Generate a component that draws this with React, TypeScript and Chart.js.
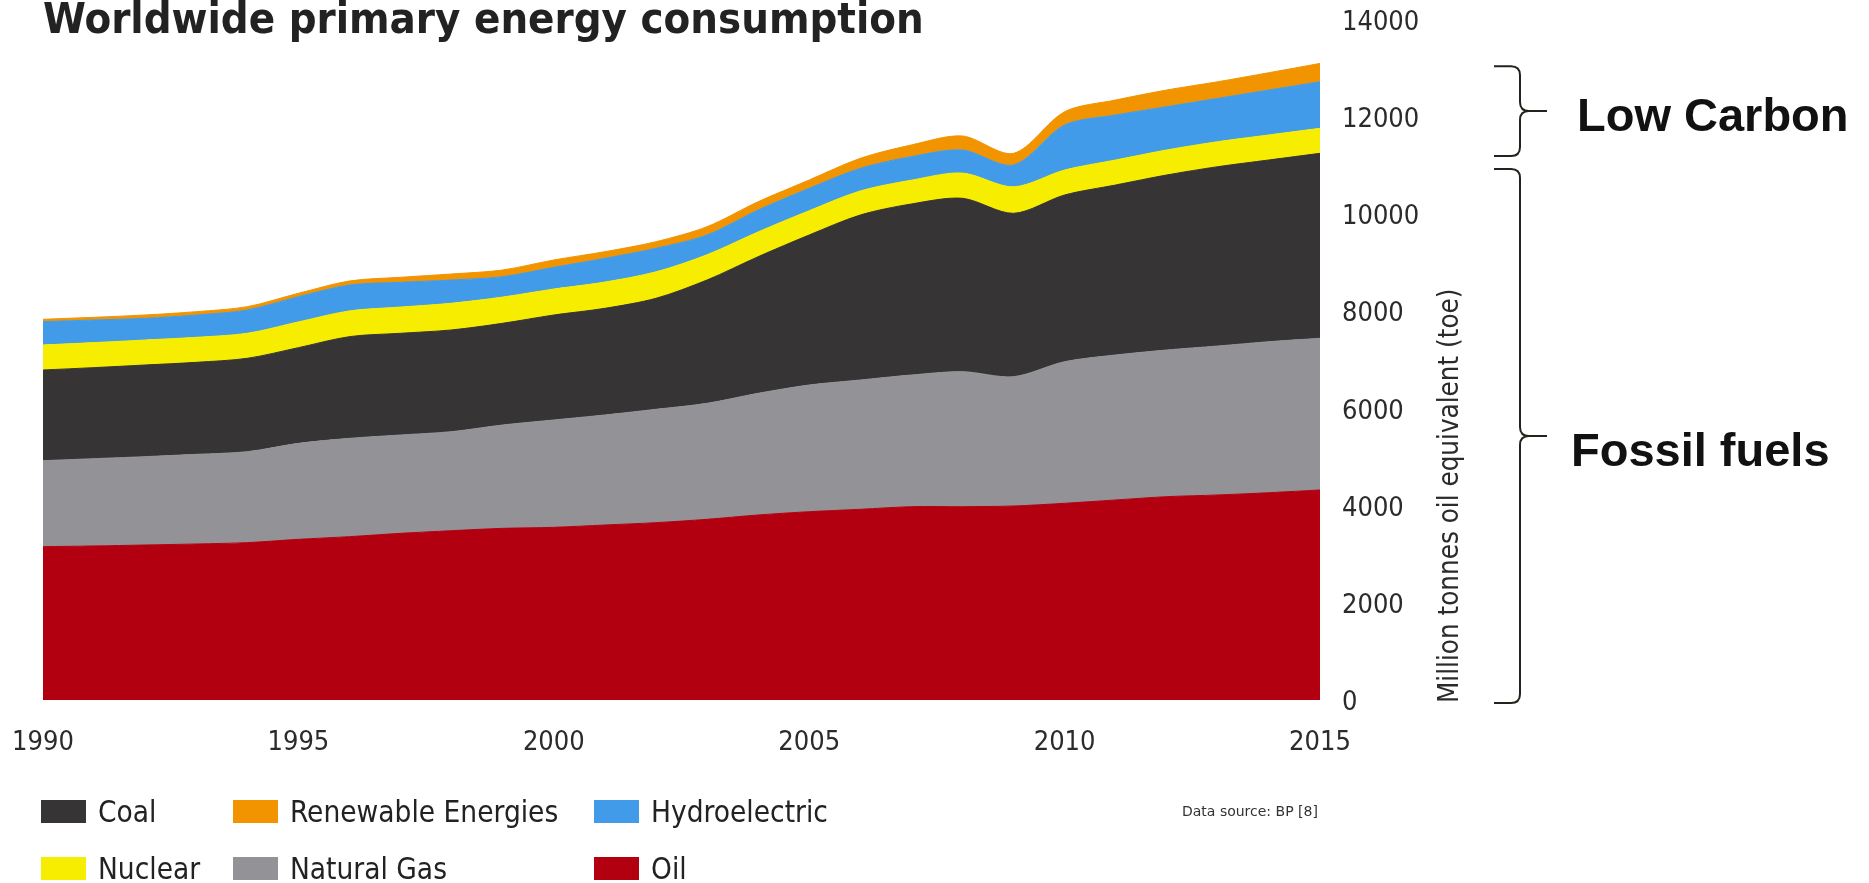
import React, { useEffect, useRef } from 'react';
import { Chart, registerables } from 'chart.js';

Chart.register(...registerables);

// ---------------- data ----------------
const years = [
  1990, 1991, 1992, 1993, 1994, 1995, 1996, 1997, 1998, 1999, 2000, 2001, 2002,
  2003, 2004, 2005, 2006, 2007, 2008, 2009, 2010, 2011, 2012, 2013, 2014, 2015,
];
const xTickLabels = ['1990', '1995', '2000', '2005', '2010', '2015'];
const yTickValues = [0, 2000, 4000, 6000, 8000, 10000, 12000, 14000];

const oil = [3157, 3171, 3191, 3212, 3240, 3308, 3363, 3431, 3486, 3534, 3555, 3603, 3651, 3720, 3809, 3877, 3926, 3980, 3980, 3994, 4050, 4118, 4186, 4221, 4268, 4324];
const naturalGas = [1770, 1798, 1819, 1846, 1872, 1976, 2024, 2025, 2039, 2128, 2210, 2265, 2334, 2388, 2505, 2608, 2662, 2711, 2780, 2663, 2915, 2985, 3020, 3067, 3109, 3122];
const coal = [1867, 1874, 1887, 1894, 1923, 1970, 2094, 2094, 2094, 2094, 2161, 2196, 2285, 2539, 2813, 3089, 3397, 3521, 3569, 3363, 3432, 3500, 3603, 3692, 3741, 3809];
const nuclear = [515, 515, 515, 515, 515, 530, 530, 540, 550, 540, 535, 540, 545, 520, 510, 500, 495, 490, 520, 545, 515, 515, 515, 515, 515, 515];
const hydroelectric = [480, 466, 446, 459, 480, 520, 533, 510, 478, 420, 447, 490, 485, 407, 451, 461, 466, 485, 475, 450, 926, 926, 892, 892, 926, 959];
const renewables = [49, 55, 69, 69, 68, 69, 83, 103, 124, 137, 151, 136, 136, 171, 171, 171, 206, 240, 288, 240, 274, 309, 343, 342, 356, 377];

const seriesNames = ['Oil', 'Natural Gas', 'Coal', 'Nuclear', 'Hydroelectric', 'Renewable Energies'];
const seriesValues = [oil, naturalGas, coal, nuclear, hydroelectric, renewables];
const seriesColors = ['#B20010', '#939297', '#373435', '#F6ED00', '#429BE8', '#F29400'];
const legendRows = [
  ['Coal', 'Renewable Energies', 'Hydroelectric'],
  ['Nuclear', 'Natural Gas', 'Oil'],
];

const TITLE = 'Worldwide primary energy consumption';
const Y_TITLE = 'Million tonnes oil equivalent (toe)';
const SOURCE = 'Data source: BP [8]';

// ---------------- layout ----------------
const W = 1869;
const H = 883;
const COND = '"DejaVu Sans Condensed", "DejaVu Sans", sans-serif';

function brace(ctx: CanvasRenderingContext2D, xL: number, xV: number, xTip: number, top: number, bottom: number) {
  const mid = (top + bottom) / 2;
  const r = 9;
  ctx.beginPath();
  ctx.moveTo(xL, top);
  ctx.lineTo(xV - r, top);
  ctx.quadraticCurveTo(xV, top, xV, top + r);
  ctx.lineTo(xV, mid - r);
  ctx.quadraticCurveTo(xV, mid, xV + r, mid);
  ctx.lineTo(xTip, mid);
  ctx.moveTo(xV + r, mid);
  ctx.quadraticCurveTo(xV, mid, xV, mid + r);
  ctx.lineTo(xV, bottom - r);
  ctx.quadraticCurveTo(xV, bottom, xV - r, bottom);
  ctx.lineTo(xL, bottom);
  ctx.stroke();
  return mid;
}

const decorations = {
  id: 'decorations',
  afterDraw(chart: any) {
    const { ctx, chartArea, scales } = chart;
    const ys = scales.y;
    ctx.save();

    // title (fit to original width)
    ctx.fillStyle = '#222222';
    let size = 40;
    ctx.font = `bold ${size}px ${COND}`;
    size = (size * 881) / ctx.measureText(TITLE).width;
    ctx.font = `bold ${size}px ${COND}`;
    ctx.textAlign = 'left';
    ctx.textBaseline = 'alphabetic';
    ctx.fillText(TITLE, chartArea.left, 33);

    // y-axis title, reading bottom to top
    ctx.save();
    ctx.translate(chartArea.right + 131, chartArea.bottom + 3);
    ctx.rotate(-Math.PI / 2);
    ctx.font = `27.5px ${COND}`;
    ctx.fillStyle = '#2b2b2b';
    ctx.textAlign = 'left';
    ctx.textBaseline = 'middle';
    ctx.fillText(Y_TITLE, 0, 0);
    ctx.restore();

    // braces
    ctx.strokeStyle = '#23231c';
    ctx.lineWidth = 2;
    const xL = chartArea.right + 174;
    const xV = chartArea.right + 200;
    const xTip = chartArea.right + 227;
    const midLow = brace(ctx, xL, xV, xTip, ys.getPixelForValue(13050), ys.getPixelForValue(11200));
    const midFossil = brace(ctx, xL, xV, xTip, ys.getPixelForValue(10930), ys.getPixelForValue(-60));
    ctx.fillStyle = '#111111';
    ctx.font = 'bold 47px "Liberation Sans", Arial, sans-serif';
    ctx.textBaseline = 'middle';
    ctx.fillText('Low Carbon', chartArea.right + 257, midLow + 7);
    ctx.fillText('Fossil fuels', chartArea.right + 251, midFossil + 17);

    // legend
    const colX = [41, 233, 594];
    const rowY = [800, 857];
    ctx.font = `29.5px ${COND}`;
    ctx.textBaseline = 'alphabetic';
    legendRows.forEach((row, r) => {
      row.forEach((name, c) => {
        const color = seriesColors[seriesNames.indexOf(name)];
        ctx.fillStyle = color;
        ctx.fillRect(colX[c], rowY[r], 45, 23);
        ctx.fillStyle = '#222222';
        ctx.fillText(name, colX[c] + 57, rowY[r] + 22);
      });
    });

    // source
    ctx.font = '14px "DejaVu Sans", sans-serif';
    ctx.fillStyle = '#333333';
    ctx.fillText(SOURCE, 1182, 816);

    ctx.restore();
  },
};

export default function App() {
  const ref = useRef<HTMLCanvasElement>(null);

  useEffect(() => {
    document.body.style.margin = '0';
    const canvas = ref.current;
    if (!canvas) return;

    const datasets = seriesNames.map((name, i) => ({
      label: name,
      data: seriesValues[i],
      backgroundColor: seriesColors[i],
      borderColor: seriesColors[i],
      borderWidth: 1,
      pointRadius: 0,
      tension: 0.3,
      fill: i === 0 ? 'origin' : '-1',
    }));

    const chart = new Chart(canvas, {
      type: 'line',
      data: { labels: years.map(String), datasets },
      plugins: [decorations],
      options: {
        responsive: false,
        animation: false,
        layout: { padding: { left: 43, top: 20, right: 0, bottom: 0 } },
        plugins: {
          legend: { display: false },
          tooltip: { enabled: false },
        },
        scales: {
          x: {
            type: 'category',
            offset: false,
            grid: { display: false, drawTicks: false },
            border: { display: false },
            ticks: {
              autoSkip: false,
              maxRotation: 0,
              minRotation: 0,
              padding: 27,
              color: '#2b2b2b',
              font: { family: COND, size: 27 },
              callback: (_v: any, index: number) => {
                const lab = String(years[index]);
                return xTickLabels.includes(lab) ? lab : '';
              },
            },
            afterFit: (s: any) => {
              s.height = H - 700;
              s.paddingLeft = 0;
              s.paddingRight = 0;
              s.paddingTop = 0;
              s.paddingBottom = 0;
            },
          },
          y: {
            position: 'right',
            stacked: true,
            min: 0,
            max: 14000,
            grid: { display: false, drawTicks: false },
            border: { display: false },
            afterBuildTicks: (s: any) => {
              s.ticks = yTickValues.map((v) => ({ value: v }));
            },
            ticks: {
              padding: 22,
              labelOffset: 3,
              color: '#2b2b2b',
              font: { family: COND, size: 27 },
              callback: (v: any) => String(v),
            },
            afterFit: (s: any) => {
              s.width = W - 1320;
              s.paddingLeft = 0;
              s.paddingRight = 0;
              s.paddingTop = 0;
              s.paddingBottom = 0;
            },
          },
        },
      },
    } as any);

    return () => chart.destroy();
  }, []);

  return <canvas ref={ref} width={W} height={H} style={{ display: 'block', width: W, height: H }} />;
}
